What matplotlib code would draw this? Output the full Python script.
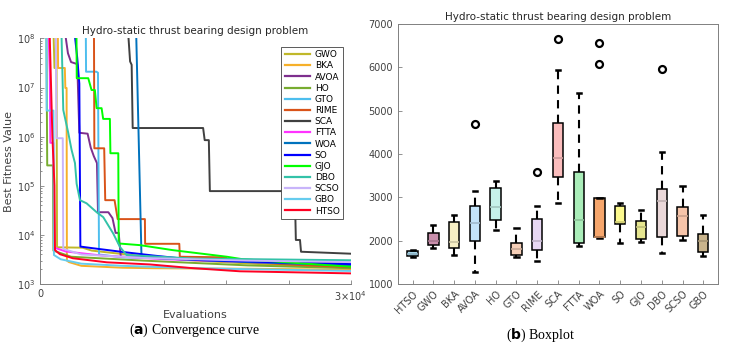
import numpy as np
import matplotlib
matplotlib.use('Agg')
import matplotlib.pyplot as plt
from matplotlib.colors import to_rgb

# ---- convergence curves (evaluations, best fitness) ----
GWO_x = [1200, 1400, 1600, 1650, 4100, 5000, 7000, 10000, 15000, 22000, 30000]
GWO_y = [1e9, 2.5e7, 2.5e7, 5600, 5500, 4800, 4300, 3700, 3000, 2500, 2150]
BKA_x = [1700, 1750, 2400, 2450, 2570, 2600, 2800, 4000, 8000, 11000, 20000, 30000]
BKA_y = [1e9, 2.5e7, 2.5e7, 9.8e6, 9.8e6, 3000, 2800, 2350, 2150, 2100, 2050, 1950]
AVOA_x = [2300, 2500, 2700, 3000, 3600, 3800, 4600, 4900, 5200, 5500, 5600, 6600,
          7000, 7300, 7600, 7800, 10300, 15000, 30000]
AVOA_y = [1e9, 1e8, 5e7, 3.3e7, 3.0e7, 1.2e6, 1.15e6, 6e5, 4e5, 2.9e5, 2.9e4, 2.9e4,
          2.2e4, 1.1e4, 1.1e4, 3600, 3500, 3100, 2650]
HO_x = [600, 700, 1250, 1300, 3000, 10000, 20000, 30000]
HO_y = [1e9, 2.6e5, 2.6e5, 4800, 3600, 3000, 2400, 2100]
GTO_x = [4400, 4450, 5450, 5600, 5700, 8000, 15000, 30000]
GTO_y = [1e9, 2.1e7, 2.1e7, 2.0e7, 4000, 3500, 3200, 2950]
RIME_x = [5200, 5250, 6200, 6300, 7200, 7500, 10130, 10150, 13450, 13500, 18000,
          18100, 24000, 30000]
RIME_y = [1e9, 5.8e5, 5.8e5, 5.1e4, 5.1e4, 2.1e4, 2.1e4, 6600, 6600, 3600, 3500,
          3000, 2500, 2200]
SCA_x = [8500, 8550, 8700, 8850, 8950, 15750, 15900, 16300, 16400, 24600, 24700,
         25100, 25200, 30000]
SCA_y = [1e9, 1e8, 3.4e7, 2.9e7, 1.5e6, 1.5e6, 8.5e5, 8.5e5, 7.8e4, 7.8e4, 7900,
         7900, 4550, 4150]
FTTA_x = [700, 950, 1000, 1300, 1400, 2500, 6000, 12000, 20000, 30000]
FTTA_y = [1e9, 2e7, 7.5e5, 7.5e5, 5500, 4600, 3800, 3200, 2800, 2500]
WOA_x = [9280, 9300, 9800, 12000, 20000, 30000]
WOA_y = [1e9, 1e8, 3600, 3300, 2800, 2400]
SO_x = [3300, 3400, 3600, 3800, 3900, 5000, 8000, 11000, 15000, 22000, 30000]
SO_y = [1e9, 1e8, 4e7, 1.2e7, 5800, 5400, 4500, 3800, 3100, 2800, 2550]
GJO_x = [3500, 3550, 4660, 4980, 5300, 5470, 5950, 6100, 6750, 6800, 7560, 7600,
         9650, 12830, 15430, 18040, 19580, 30000]
GJO_y = [1e9, 1.55e7, 1.55e7, 8.9e6, 8.9e6, 3.8e6, 3.8e6, 2.3e6, 2.3e6, 4.6e5, 4.6e5,
         6700, 6200, 4900, 4200, 3600, 3200, 2250]
DBO_x = [2050, 2090, 2250, 2730, 3050, 3380, 3540, 3860, 4500, 5470, 6110, 7070,
         7720, 8360, 15000, 30000]
DBO_y = [1e9, 1e8, 3.5e6, 1.2e6, 5.4e5, 2.9e5, 1.1e5, 5.1e4, 4.4e4, 2.9e4, 2.3e4,
         1.07e4, 5700, 3900, 3300, 3050]
SCSO_x = [1500, 1600, 2200, 2250, 4000, 10000, 20000, 30000]
SCSO_y = [1e9, 9.3e5, 9.3e5, 5200, 4000, 3400, 3000, 2800]
GBO_x = [600, 650, 1300, 1350, 2000, 4000, 8000, 15000, 30000]
GBO_y = [1e9, 3.4e6, 3.4e6, 3900, 3200, 2600, 2350, 2100, 1850]
HTSO_x = [800, 950, 1200, 1400, 1450, 1930, 3180, 6460, 10600, 14470, 19290, 30000]
HTSO_y = [1e9, 1e8, 1e6, 1e5, 4900, 4050, 3350, 2770, 2510, 2130, 1820, 1650]

# ---- boxplot statistics ----
box_names = ['HTSO', 'GWO', 'BKA', 'AVOA', 'HO', 'GTO', 'RIME', 'SCA', 'FTTA',
             'WOA', 'SO', 'GJO', 'DBO', 'SCSO', 'GBO']
q1 = [1650, 1900, 1840, 2000, 2470, 1680, 1790, 3470, 1940, 2080, 2380, 2050, 2090, 2100, 1730]
q3 = [1770, 2180, 2420, 2790, 3220, 1950, 2490, 4710, 3580, 2980, 2800, 2460, 3190, 2780, 2160]
med = [1700, 2000, 1970, 2400, 2780, 1810, 1990, 3900, 2480, 2090, 2430, 2320, 2910, 2560, 2000]
wlo = [1620, 1830, 1680, 1270, 2240, 1620, 1530, 2870, 1880, 2060, 1950, 1960, 1710, 2010, 1640]
whi = [1790, 2370, 2600, 3150, 3380, 2300, 2800, 5930, 5400, 2980, 2870, 2710, 4040, 3270, 2600]
outliers = [[], [], [], [4700], [], [], [3580], [6650], [], [6080, 6560], [], [], [5950], [], []]
box_colors = ['#A9D8EC', '#C98FAC', '#F6EEC4', '#C4E4FA', '#C6F1EA', '#F6CFB8', '#E8D8F4',
              '#FBBDBD', '#AAEDB9', '#F6A66C', '#FCF98E', '#E6E690', '#EAD8D9', '#F6C4A9',
              '#C9B48C']

curves = [('GWO', GWO_x, GWO_y, '#C0B82A'), ('BKA', BKA_x, BKA_y, '#F6B02A'),
          ('AVOA', AVOA_x, AVOA_y, '#7E2F8E'), ('HO', HO_x, HO_y, '#77AC30'),
          ('GTO', GTO_x, GTO_y, '#4DBEEE'), ('RIME', RIME_x, RIME_y, '#D95319'),
          ('SCA', SCA_x, SCA_y, '#404040'), ('FTTA', FTTA_x, FTTA_y, '#FF33FF'),
          ('WOA', WOA_x, WOA_y, '#0072BD'), ('SO', SO_x, SO_y, '#0000FF'),
          ('GJO', GJO_x, GJO_y, '#00FF00'), ('DBO', DBO_x, DBO_y, '#33C2A8'),
          ('SCSO', SCSO_x, SCSO_y, '#C8B4FA'), ('GBO', GBO_x, GBO_y, '#66CCEE'),
          ('HTSO', HTSO_x, HTSO_y, '#FF0022')]

plt.rcParams['font.family'] = ['DejaVu Sans']
fig = plt.figure(figsize=(7.4, 3.46), dpi=100)
tick_col = '#404040'
axis_col = '#808080'

# ---------- (a) convergence ----------
ax1 = fig.add_axes([0.054, 0.179, 0.420, 0.710])
for name, xs, ys, c in curves:
    ax1.plot(xs, ys, color=c, lw=1.4, label=name)
ax1.set_yscale('log')
ax1.set_xlim(0, 30000)
ax1.set_ylim(1e3, 1e8)
ax1.set_xticks([0, 6000, 12000, 18000, 24000, 30000])
ax1.set_xticklabels(['0', '', '', '', '', r'3$\times$10$^4$'])
ax1.tick_params(direction='in', which='both', colors=axis_col, labelcolor=tick_col,
                labelsize=7, width=0.6)
ax1.tick_params(which='major', length=3)
ax1.tick_params(which='minor', length=1.5)
for s in ['top', 'right']:
    ax1.spines[s].set_visible(False)
for s in ['left', 'bottom']:
    ax1.spines[s].set_color(axis_col)
    ax1.spines[s].set_linewidth(0.7)
ax1.set_title('Hydro-static thrust bearing design problem', fontsize=7.5, color='#262626', pad=3)
ax1.set_xlabel('Evaluations', fontsize=8, color=tick_col, labelpad=5)
ax1.set_ylabel('Best Fitness Value', fontsize=8, color=tick_col, labelpad=2)
leg = ax1.legend(loc='upper right', bbox_to_anchor=(0.99, 0.985), fontsize=6.5,
                 handlelength=2.8, handletextpad=0.5, labelspacing=0.24,
                 borderpad=0.4, fancybox=False, edgecolor='#404040', framealpha=1)
leg.get_frame().set_linewidth(0.6)
for line in leg.get_lines():
    line.set_linewidth(1.6)

# ---------- (b) boxplot ----------
ax2 = fig.add_axes([0.538, 0.179, 0.432, 0.752])
stats = []
for i, n in enumerate(box_names):
    stats.append(dict(label=n, q1=q1[i], q3=q3[i], med=med[i], whislo=wlo[i],
                      whishi=whi[i], fliers=outliers[i]))
bp = ax2.bxp(stats, patch_artist=True, widths=0.5, capwidths=0.2,
             boxprops=dict(linewidth=1.1, edgecolor='black'),
             whiskerprops=dict(linestyle=(0, (4, 3)), linewidth=1.5, color='black'),
             capprops=dict(linewidth=1.8, color='black'),
             medianprops=dict(linewidth=1.2),
             flierprops=dict(marker='o', markerfacecolor='none', markeredgecolor='black',
                             markersize=5, markeredgewidth=1.6))
for patch, m, c in zip(bp['boxes'], bp['medians'], box_colors):
    patch.set_facecolor(c)
    r, g, b = to_rgb(c)
    m.set_color((r * 0.82, g * 0.82, b * 0.82))
ax2.set_ylim(1000, 7000)
ax2.set_yticks(range(1000, 7001, 1000))
ax2.set_xlim(0.3, 15.7)
ax2.set_xticklabels(box_names, rotation=45, ha='right', rotation_mode='anchor')
ax2.tick_params(direction='in', colors=axis_col, labelcolor=tick_col, labelsize=7,
                length=3, width=0.6)
for s in ax2.spines.values():
    s.set_color(axis_col)
    s.set_linewidth(0.7)
ax2.set_title('Hydro-static thrust bearing design problem', fontsize=7.5, color='#262626', pad=3)

# captions
fig.text(0.263, 0.045, r'($\mathbf{a}$) Convergence curve', ha='center', va='center',
         fontsize=10, family='Liberation Serif')
fig.text(0.730, 0.032, r'($\mathbf{b}$) Boxplot', ha='center', va='center',
         fontsize=10, family='Liberation Serif')

fig.savefig('out.png', dpi=100)
